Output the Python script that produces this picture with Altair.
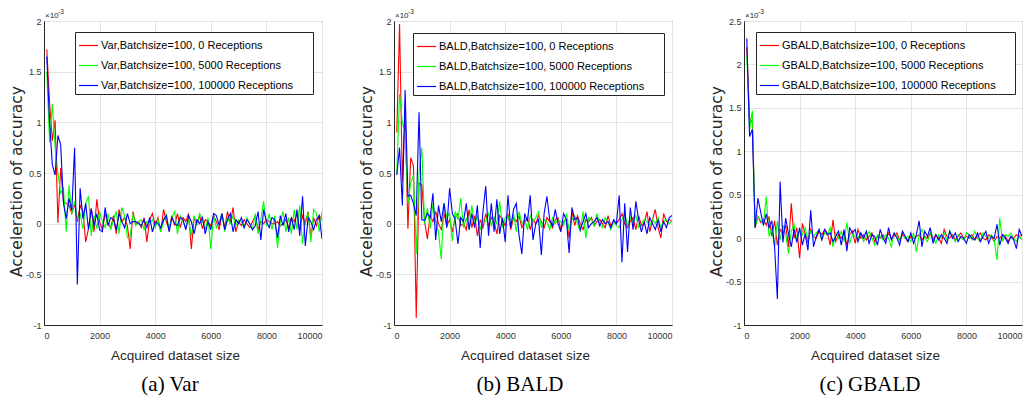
import altair as alt
import pandas as pd

# x: acquired dataset size (batch size 100)
X = list(range(100, 10001, 100))

# values in units of 1e-3
VAR_R = [1.72, 1.20, 0.82, 1.02, 0.01, 0.55, 0.22, 0.20, 0.18, 0.10,
         0.20, 0.02, 0.18, 0.12, -0.18, -0.05, 0.15, -0.08, 0.24, 0.02,
         -0.06, 0.10, 0.00, -0.04, 0.08, -0.10, 0.14, 0.02, 0.06, -0.02,
         -0.25, 0.12, 0.00, 0.02, -0.04, 0.06, -0.18, 0.04, 0.10, -0.02,
         0.06, -0.08, 0.14, 0.02, -0.06, 0.08, -0.02, 0.10, -0.04, 0.06,
         0.02, 0.10, -0.25, 0.06, 0.00, 0.08, -0.05, 0.04, 0.02, -0.02,
         0.08, 0.02, -0.06, 0.10, -0.04, 0.12, 0.00, 0.16, -0.08, 0.02,
         -0.02, 0.04, 0.00, -0.04, 0.02, 0.08, -0.06, 0.02, 0.00, 0.04,
         0.02, 0.00, 0.00, 0.02, -0.02, 0.00, 0.04, -0.04, 0.06, 0.02,
         0.10, -0.06, 0.08, 0.00, 0.12, -0.14, 0.06, -0.02, 0.08, 0.04]
VAR_G = [1.50, 0.80, 1.18, 0.75, 0.50, 0.30, 0.35, -0.08, 0.38, 0.10,
         0.22, 0.05, 0.10, -0.05, 0.20, 0.27, -0.12, 0.08, -0.05, 0.12,
         0.02, -0.04, 0.10, -0.06, 0.04, 0.12, -0.10, 0.16, 0.08, -0.14,
         -0.12, 0.10, -0.02, 0.02, 0.04, -0.06, 0.02, 0.00, 0.04, -0.04,
         0.04, -0.08, 0.02, 0.10, -0.06, 0.06, 0.12, -0.10, 0.08, 0.02,
         -0.04, 0.04, -0.12, 0.08, -0.02, 0.10, 0.04, -0.06, 0.06, -0.25,
         0.08, -0.04, 0.02, 0.10, -0.08, 0.06, 0.00, 0.08, -0.02, 0.04,
         0.02, -0.04, 0.06, 0.00, -0.06, 0.10, -0.10, 0.04, 0.22, -0.02,
         0.10, -0.06, 0.08, -0.24, 0.02, 0.12, -0.08, 0.06, -0.10, 0.14,
         -0.06, 0.18, -0.20, 0.04, 0.10, -0.18, 0.14, 0.10, -0.08, 0.12]
VAR_B = [1.65, 1.00, 0.58, 0.48, 0.87, 0.78, 0.20, 0.05, 0.25, 0.13,
         0.75, -0.60, 0.35, 0.05, 0.20, -0.06, 0.15, -0.02, 0.10, -0.06,
         -0.08, 0.16, -0.02, 0.06, 0.04, -0.06, 0.10, 0.02, -0.04, 0.10,
         0.00, 0.02, 0.02, 0.00, -0.02, 0.04, -0.04, 0.06, -0.08, 0.02,
         0.00, -0.04, 0.04, 0.08, -0.08, 0.06, 0.00, -0.02, 0.06, 0.04,
         -0.06, 0.08, 0.02, -0.10, 0.04, 0.00, 0.06, -0.10, 0.02, -0.06,
         0.10, 0.08, -0.02, 0.10, -0.06, 0.04, 0.10, -0.08, 0.04, 0.00,
         0.06, -0.04, 0.04, 0.00, -0.06, -0.02, 0.12, -0.16, 0.14, 0.02,
         -0.04, 0.06, 0.04, -0.14, 0.08, -0.02, 0.10, -0.08, 0.06, -0.06,
         0.14, -0.12, 0.27, -0.22, 0.06, 0.02, -0.06, 0.04, 0.08, -0.15]

BALD_R = [0.90, 1.97, 0.42, 1.10, -0.05, 0.65, 0.57, -0.93, 0.40, 0.38,
          0.02, -0.15, 0.08, 0.02, 0.12, 0.00, -0.06, 0.10, -0.02, 0.04,
          -0.08, 0.06, 0.10, -0.02, 0.00, -0.06, 0.14, -0.04, 0.08, -0.12,
          0.04, -0.04, 0.10, -0.02, 0.06, 0.02, -0.10, 0.08, 0.04, -0.02,
          0.10, -0.06, 0.06, 0.02, 0.08, -0.04, 0.02, 0.06, -0.06, 0.04,
          0.00, 0.08, 0.02, -0.04, 0.06, 0.02, -0.04, 0.04, 0.06, -0.06,
          0.02, 0.04, -0.14, 0.12, -0.02, 0.08, 0.00, -0.06, 0.04, 0.02,
          0.06, -0.02, 0.02, 0.04, 0.00, -0.04, 0.08, -0.02, 0.02, 0.00,
          0.04, 0.10, 0.00, -0.04, 0.02, 0.06, -0.06, 0.08, -0.02, 0.00,
          0.12, -0.08, 0.04, 0.14, -0.04, -0.14, 0.10, 0.02, 0.04, 0.02]
BALD_G = [0.50, 1.28, 1.00, 0.90, 0.20, 0.40, 0.48, -0.30, 0.50, 0.75,
          0.00, 0.15, -0.05, 0.20, 0.02, -0.08, -0.35, 0.20, 0.06, 0.10,
          -0.17, 0.12, 0.04, 0.25, -0.04, 0.06, -0.06, 0.18, -0.02, 0.08,
          -0.06, 0.04, 0.02, 0.10, -0.02, 0.06, 0.00, 0.22, -0.04, 0.06,
          0.08, -0.02, 0.10, -0.08, 0.12, 0.00, 0.04, -0.06, 0.08, 0.02,
          0.06, 0.12, -0.04, 0.04, 0.02, -0.06, 0.06, 0.00, 0.04, 0.02,
          -0.02, 0.10, -0.06, 0.04, 0.08, 0.00, -0.08, 0.12, -0.14, 0.06,
          0.04, -0.02, 0.10, 0.00, -0.04, 0.06, 0.02, -0.06, 0.02, -0.02,
          -0.04, 0.04, 0.10, -0.02, 0.06, 0.02, 0.08, -0.04, 0.00, 0.04,
          0.02, -0.02, 0.04, 0.00, 0.06, -0.04, 0.02, 0.04, 0.00, 0.02]
BALD_B = [0.48, 0.75, 0.18, 1.32, 0.27, 0.28, 0.20, 0.08, 1.10, 0.04,
          0.03, 0.10, 0.06, 0.30, -0.16, 0.18, 0.02, 0.20, -0.04, 0.35,
          0.10, 0.04, -0.20, 0.06, 0.02, 0.20, -0.06, 0.10, -0.04, 0.18,
          -0.24, 0.12, 0.37, -0.12, 0.20, -0.08, 0.24, -0.10, 0.06, -0.18,
          0.28, -0.04, 0.14, 0.20, -0.12, -0.30, 0.10, 0.02, 0.28, -0.16,
          0.00, 0.04, -0.31, 0.10, 0.27, 0.04, -0.02, 0.14, 0.00, -0.08,
          0.10, 0.04, -0.29, 0.16, 0.04, 0.06, -0.06, 0.02, 0.10, -0.04,
          0.00, 0.02, 0.06, -0.02, 0.04, 0.00, 0.02, -0.04, 0.04, 0.00,
          0.28, -0.38, 0.20, -0.28, 0.16, -0.06, 0.22, 0.04, -0.08, 0.02,
          -0.10, 0.06, 0.00, -0.06, 0.04, -0.08, 0.02, -0.04, 0.06, 0.08]

GBALD_R = [2.20, 1.38, 1.33, 0.12, 0.25, 0.18, 0.22, 0.15, 0.25, 0.02,
           0.20, -0.08, 0.10, 0.05, 0.15, -0.10, 0.40, 0.00, 0.12, -0.23,
           0.17, 0.05, -0.05, 0.10, 0.02, 0.00, 0.08, 0.04, 0.10, 0.06,
           -0.08, 0.21, -0.04, 0.04, 0.00, 0.06, -0.08, 0.04, 0.08, -0.06,
           0.10, 0.00, 0.04, -0.02, 0.02, 0.06, -0.04, 0.02, 0.00, 0.04,
           -0.02, 0.06, 0.00, 0.02, 0.06, -0.02, 0.04, 0.00, -0.04, 0.02,
           0.00, 0.02, 0.04, -0.02, 0.02, 0.00, 0.06, -0.02, 0.04, 0.00,
           -0.06, 0.10, 0.02, 0.00, 0.04, -0.02, 0.02, 0.06, 0.00, 0.02,
           0.00, 0.04, -0.02, 0.02, 0.06, 0.00, -0.02, 0.04, 0.02, -0.04,
           0.02, 0.00, 0.04, 0.02, -0.04, 0.02, 0.00, 0.04, 0.02, 0.04]
GBALD_G = [2.10, 1.25, 1.47, 0.12, 0.25, 0.20, 0.15, 0.48, 0.02, 0.12,
           -0.10, 0.20, -0.02, 0.15, 0.05, -0.18, 0.08, 0.16, -0.04, 0.10,
           0.04, 0.12, -0.02, 0.08, 0.02, 0.06, 0.10, -0.02, 0.06, 0.04,
           0.12, -0.10, 0.06, 0.00, 0.08, -0.04, 0.18, -0.06, 0.04, 0.02,
           0.00, 0.06, -0.04, 0.02, 0.08, 0.00, -0.08, 0.04, 0.02, -0.02,
           0.04, 0.00, -0.10, 0.06, 0.02, -0.04, 0.08, 0.00, 0.02, -0.04,
           0.06, -0.16, 0.04, 0.10, 0.00, -0.04, 0.06, 0.02, -0.06, 0.04,
           0.00, 0.06, -0.02, 0.08, 0.02, -0.04, 0.04, 0.00, -0.02, 0.06,
           0.04, -0.02, 0.08, 0.00, -0.04, 0.06, 0.02, 0.00, 0.04, -0.02,
           -0.25, 0.23, -0.04, 0.04, 0.02, 0.06, 0.00, -0.04, 0.02, -0.02]
GBALD_B = [2.30, 1.17, 1.25, 0.12, 0.46, 0.30, 0.15, 0.28, 0.12, 0.20,
           -0.10, -0.70, 0.65, -0.05, 0.23, 0.05, -0.10, 0.10, -0.05, 0.12,
           -0.08, 0.05, -0.14, 0.32, -0.10, 0.02, 0.10, -0.02, 0.10, 0.04,
           0.06, -0.04, 0.02, 0.08, -0.08, 0.10, -0.15, 0.12, 0.06, 0.10,
           -0.04, 0.06, 0.00, 0.08, -0.06, 0.04, 0.02, -0.08, 0.10, 0.00,
           -0.06, 0.12, -0.02, 0.06, 0.00, -0.08, 0.08, 0.02, -0.04, 0.06,
           -0.06, 0.04, 0.20, -0.10, 0.08, 0.02, 0.12, -0.06, 0.04, -0.02,
           0.04, 0.00, -0.06, 0.08, 0.00, 0.06, -0.04, 0.02, 0.00, -0.06,
           0.04, 0.00, -0.02, 0.06, -0.04, 0.02, 0.08, -0.06, 0.02, 0.00,
           0.16, -0.08, 0.04, 0.00, -0.06, 0.02, -0.02, -0.12, 0.10, 0.02]

RECEPTIONS = ["0", "5000", "100000"]
COLORS = ["#ff0000", "#00ff00", "#0000ff"]
X_TICKS = [0, 2000, 4000, 6000, 8000, 10000]

SANS = "Liberation Sans"
AX = "#262626"
PAD = "\u2800\u2800"


def panel(method, series, ydom, yticks, legx, legy, caption):
    names = [f"{method},Batchsize=100, {r} Receptions" for r in RECEPTIONS]
    frames = [pd.DataFrame({"x": X, "y": vals, "s": n}) for n, vals in zip(names, series)]
    df = pd.concat(frames, ignore_index=True)
    lines = alt.Chart(df).mark_line(strokeWidth=1.1, clip=True).encode(
        x=alt.X("x:Q", scale=alt.Scale(domain=[0, 10000], nice=False),
                axis=alt.Axis(values=X_TICKS, title="Acquired dataset size",
                              labelExpr="'' + datum.value",
                              titleFont=SANS, titleFontSize=13.5,
                              titleX=131, labelPadding=6, titlePadding=8)),
        y=alt.Y("y:Q", scale=alt.Scale(domain=ydom, nice=False),
                axis=alt.Axis(values=yticks, title="Acceleration of accuracy",
                              labelExpr="'' + datum.value",
                              titleFont="DejaVu Sans", titleFontSize=15.5,
                              titleY=160, labelPadding=3, titlePadding=1)),
        color=alt.Color("s:N", scale=alt.Scale(domain=names, range=COLORS),
                        legend=alt.Legend(orient="none", legendX=legx, legendY=legy,
                                          title=None, symbolType="stroke",
                                          symbolSize=361, symbolStrokeWidth=1.2,
                                          strokeColor="#262626", fillColor="white",
                                          padding=3, rowPadding=4, labelOffset=2,
                                          labelFont=SANS, labelFontSize=11,
                                          labelColor="black", labelLimit=400,
                                          labelExpr="datum.label + '" + PAD + "'")),
    )
    base_txt = alt.Chart(pd.DataFrame({"t": ["\u00d710"]})).mark_text(
        align="left", baseline="middle", fontSize=8, font=SANS, color=AX
    ).encode(x=alt.value(1), y=alt.value(-5), text="t:N")
    exp_txt = alt.Chart(pd.DataFrame({"t": ["-3"]})).mark_text(
        align="left", baseline="middle", fontSize=6.5, font=SANS, color=AX
    ).encode(x=alt.value(14), y=alt.value(-9), text="t:N")
    return alt.layer(lines, base_txt, exp_txt).properties(
        width=278, height=304,
        title=alt.Title(caption, orient="bottom", font="Liberation Serif",
                        fontSize=21, fontWeight="normal", color="black",
                        dx=-13, offset=12),
    )


Y_AB = [-1, -0.5, 0, 0.5, 1, 1.5, 2]
Y_C = [-1, -0.5, 0, 0.5, 1, 1.5, 2, 2.5]

pa = panel("Var", [VAR_R, VAR_G, VAR_B], [-1, 2], Y_AB, 31, 11, "(a) Var")
pb = panel("BALD", [BALD_R, BALD_G, BALD_B], [-1, 2], Y_AB, 19, 12, "(b) BALD")
pc = panel("GBALD", [GBALD_R, GBALD_G, GBALD_B], [-1, 2.5], Y_C, 12, 11, "(c) GBALD")

chart = alt.hconcat(pa, pb, pc, spacing=72, bounds="flush").resolve_scale(
    color="independent", x="independent", y="independent"
).properties(
    padding={"left": 0, "top": 0, "right": 0, "bottom": 0}, background="white"
).configure_view(
    stroke=AX, strokeWidth=1
).configure_axis(
    grid=True, gridColor="#e3e3e3", gridWidth=1,
    domainColor=AX, ticks=False,
    labelFont=SANS, labelFontSize=9, labelColor="#333333",
    titleFontWeight="normal", titleColor=AX,
)

chart.save("out.html", embed_options={"renderer": "svg", "actions": False})
